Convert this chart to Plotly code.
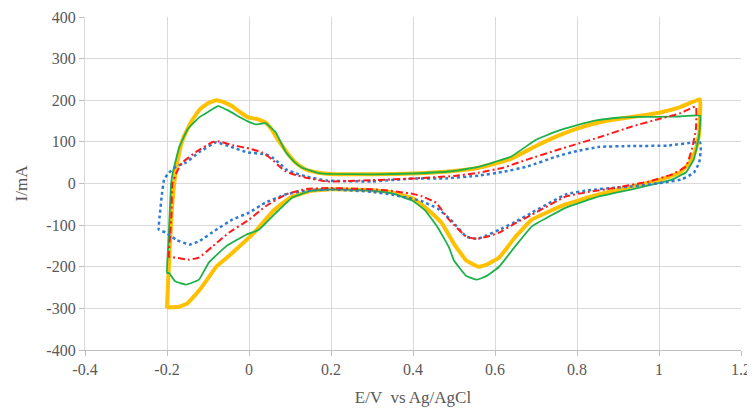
import plotly.graph_objects as go

# ---- data (E/V vs Ag/AgCl, I/mA) ----
orange_x = [-0.2, -0.197, -0.193, -0.188, -0.18, -0.17, -0.16, -0.14, -0.12, -0.1, -0.08, -0.06, -0.04, -0.02, 0.0,
            0.02, 0.04, 0.055, 0.07, 0.085, 0.1, 0.12, 0.14, 0.17, 0.2, 0.3, 0.4, 0.5, 0.56, 0.6, 0.64, 0.7, 0.75,
            0.8, 0.85, 0.9, 0.95, 1.0, 1.05, 1.1,
            1.1, 1.098, 1.09, 1.075, 1.05, 1.0, 0.93, 0.85, 0.77, 0.69, 0.65, 0.61, 0.58, 0.56, 0.53, 0.5, 0.47,
            0.45, 0.42, 0.4, 0.35, 0.3, 0.2, 0.15, 0.1, 0.06, 0.02, 0.0, -0.02, -0.05, -0.08, -0.1, -0.12, -0.15,
            -0.17, -0.2]
orange_y = [-300, -230, -150, -60, 20, 75, 110, 150, 178, 193, 200, 195, 185, 170, 158,
            155, 147, 130, 106, 85, 65, 45, 33, 26, 23, 22, 24, 30, 38, 48, 60, 90, 113,
            132, 146, 155, 162, 170, 183, 202,
            160, 120, 82, 50, 26, 8, -8, -27, -51, -87, -128, -178, -195, -200, -185, -145, -95,
            -75, -50, -36, -22, -16, -14, -18, -34, -65, -110, -130, -148, -175, -200, -228, -255, -288,
            -296, -298]

green_x = [-0.2, -0.197, -0.193, -0.19, -0.185, -0.18, -0.17, -0.15, -0.12, -0.1, -0.075, -0.05, -0.02, 0.0,
           0.017, 0.04, 0.065, 0.09, 0.11, 0.13, 0.17, 0.2, 0.3, 0.4, 0.5, 0.56, 0.6, 0.64, 0.7, 0.75, 0.8,
           0.85, 0.9, 0.95, 1.0, 1.05, 1.1,
           1.097, 1.085, 1.066, 1.04, 1.017, 0.934, 0.854, 0.773, 0.69, 0.65, 0.61, 0.58, 0.556, 0.53, 0.5,
           0.488, 0.46, 0.43, 0.4, 0.35, 0.3, 0.2, 0.15, 0.105, 0.066, 0.024, -0.007, -0.056, -0.098, -0.122,
           -0.154, -0.18, -0.195, -0.2]
green_y = [-215, -150, -60, 0, 30, 50, 88, 130, 160, 172, 186, 175, 158, 148,
           142, 145, 123, 75, 52, 38, 25, 23, 22, 24, 30, 40, 52, 65, 105, 125, 140,
           152, 158, 160, 160, 161, 163,
           110, 58, 27, 13, 5, -14, -31, -58, -103, -150, -200, -222, -231, -222, -185,
           -154, -105, -65, -42, -24, -17, -14, -18, -34, -70, -111, -123, -151, -190, -231,
           -243, -235, -215, -215]

red_x = [-0.195, -0.192, -0.189, -0.187, -0.175, -0.163, -0.13, -0.09, -0.073, -0.04, 0.0, 0.032, 0.056, 0.075,
         0.09, 0.115, 0.139, 0.188, 0.3, 0.4, 0.5, 0.56, 0.62, 0.68, 0.75, 0.8, 0.854, 0.934, 1.0, 1.05, 1.09,
         1.09, 1.08, 1.066, 1.032, 0.976, 0.895, 0.83, 0.773, 0.69, 0.65, 0.61, 0.58, 0.556, 0.53, 0.488, 0.456,
         0.42, 0.4, 0.35, 0.3, 0.2, 0.14, 0.09, 0.04, 0.0, -0.049, -0.09, -0.122, -0.146, -0.18, -0.195]
red_y = [-176, -120, -70, 0, 30, 50, 75, 99, 101, 92, 84, 75, 58, 40,
         29, 20, 14, 5, 8, 12, 18, 26, 38, 58, 80, 95, 111, 137, 155, 168, 185,
         130, 82, 41, 22, 5, -10, -20, -31, -75, -95, -118, -128, -133, -128, -87, -46,
         -30, -25, -18, -14, -11, -13, -26, -55, -87, -118, -152, -178, -183, -178, -176]

blue_x = [-0.22, -0.217, -0.213, -0.207, -0.195, -0.178, -0.154, -0.122, -0.08, -0.041, -0.005, 0.04, 0.056, 0.075,
          0.09, 0.115, 0.139, 0.188, 0.3, 0.4, 0.48, 0.56, 0.62, 0.68, 0.75, 0.8, 0.854, 0.93, 1.02, 1.1,
          1.102, 1.098, 1.085, 1.056, 1.017, 0.934, 0.895, 0.83, 0.773, 0.69, 0.65, 0.61, 0.58, 0.556, 0.53,
          0.495, 0.46, 0.42, 0.4, 0.35, 0.3, 0.2, 0.14, 0.09, 0.04, 0.0, -0.041, -0.08, -0.122, -0.146, -0.178,
          -0.202, -0.22]
blue_y = [-111, -70, -30, 10, 26, 41, 50, 75, 99, 87, 75, 70, 63, 48,
          34, 24, 17, 7, 5, 12, 12, 19, 28, 41, 65, 78, 88, 90, 91, 99,
          82, 50, 26, 10, 3, -7, -10, -16, -26, -70, -92, -111, -125, -133, -128,
          -90, -60, -42, -37, -27, -20, -14, -17, -26, -46, -70, -87, -111, -139, -147, -135,
          -118, -111]

x_ticks = [-0.4, -0.2, 0, 0.2, 0.4, 0.6, 0.8, 1, 1.2]
x_tick_labels = ["-0.4", "-0.2", "0", "0.2", "0.4", "0.6", "0.8", "1", "1.2"]
y_ticks = [-400, -300, -200, -100, 0, 100, 200, 300, 400]
y_tick_labels = ["-400", "-300", "-200", "-100", "0", "100", "200", "300", "400"]

font_family = "Liberation Serif, Times New Roman, serif"
txt_color = "#595959"

fig = go.Figure()
fig.add_trace(go.Scatter(x=orange_x, y=orange_y, mode="lines",
                         line=dict(color="#FFC000", width=4, shape="spline", smoothing=0.3)))
fig.add_trace(go.Scatter(x=green_x, y=green_y, mode="lines",
                         line=dict(color="#1DB04B", width=1.8, shape="spline", smoothing=0.3)))
fig.add_trace(go.Scatter(x=blue_x, y=blue_y, mode="lines",
                         line=dict(color="#2E7BCF", width=2.5, dash="dot", shape="spline", smoothing=0.3)))
fig.add_trace(go.Scatter(x=red_x, y=red_y, mode="lines",
                         line=dict(color="#FF1A1A", width=2, dash="7px,3px,2px,3px", shape="spline", smoothing=0.3)))

# page body has an 8px default margin, so the figure is offset by 8px
fig.update_layout(
    width=747, height=404,
    margin=dict(l=77, r=14, t=9, b=62, autoexpand=False),
    paper_bgcolor="white", plot_bgcolor="white",
    showlegend=False,
    font=dict(family=font_family, size=16, color=txt_color),
    xaxis=dict(range=[-0.4, 1.2], tickvals=x_ticks, ticktext=x_tick_labels, automargin=False,
               showgrid=True, gridcolor="#D9D9D9", gridwidth=1.3, zeroline=False,
               showline=True, linecolor="#BFBFBF", linewidth=1.3,
               ticks="outside", ticklen=5, tickcolor="#BFBFBF",
               tickfont=dict(family=font_family, size=16, color=txt_color),
               title=dict(text="E/V  vs Ag/AgCl", font=dict(family=font_family, size=17, color=txt_color),
                          standoff=13)),
    yaxis=dict(range=[-400, 400], tickvals=y_ticks, ticktext=y_tick_labels, automargin=False,
               showgrid=True, gridcolor="#D9D9D9", gridwidth=1.3, zeroline=False,
               showline=True, linecolor="#D9D9D9", linewidth=1.3,
               ticks="outside", ticklen=5, tickcolor="#BFBFBF",
               tickfont=dict(family=font_family, size=16, color=txt_color),
               title=dict(text="I/mA", font=dict(family=font_family, size=17, color=txt_color),
                          standoff=14)),
)

fig.write_html("out.html")
